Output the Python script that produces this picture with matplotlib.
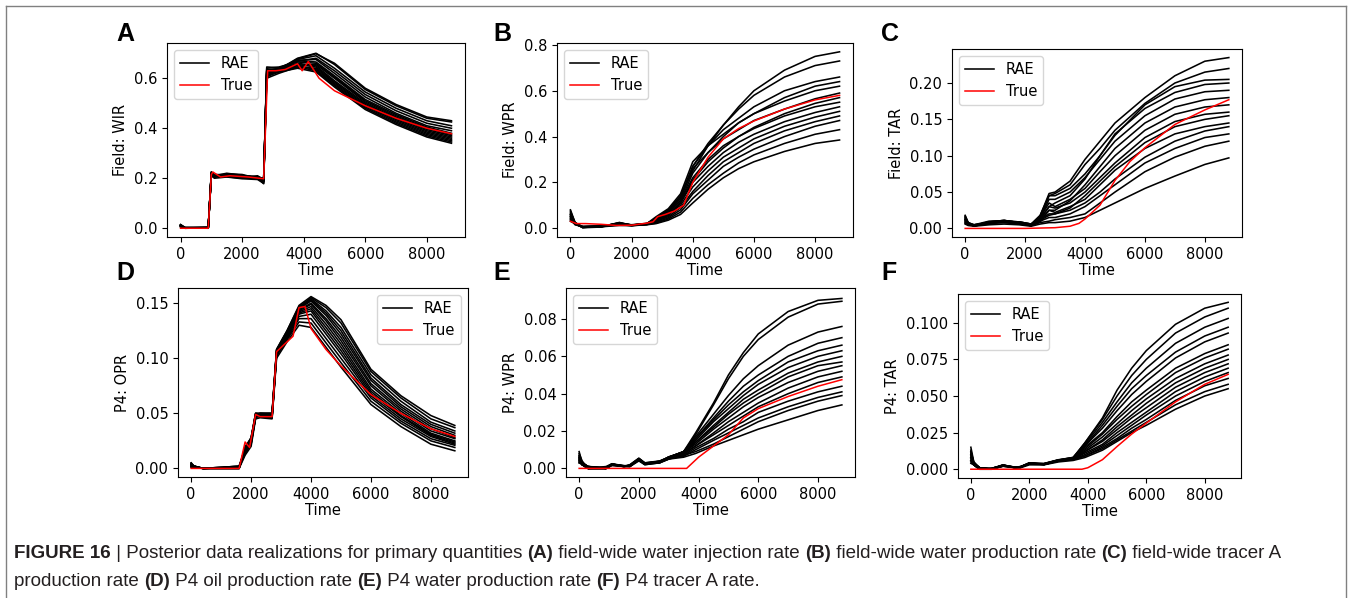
import matplotlib
matplotlib.use("Agg")
import matplotlib.pyplot as plt
from matplotlib.lines import Line2D

plt.rcParams['font.family'] = ['DejaVu Sans']
plt.rcParams['font.size'] = 10.5

# ---------------- panel A: Field WIR ----------------
a_time = [0, 150, 900, 1000, 1100, 1500, 2000, 2500, 2700, 2800, 3200, 3800, 4400, 5000, 6000, 7000, 8000, 8800]
a_runs = [
    [0.012, 0.002, 0.003, 0.215, 0.205, 0.208, 0.202, 0.198, 0.190, 0.610, 0.625, 0.640, 0.625, 0.565, 0.475, 0.415, 0.365, 0.340],
    [0.008, 0.001, 0.002, 0.220, 0.210, 0.212, 0.205, 0.200, 0.185, 0.615, 0.630, 0.645, 0.630, 0.570, 0.480, 0.420, 0.370, 0.345],
    [0.015, 0.003, 0.004, 0.225, 0.215, 0.214, 0.210, 0.205, 0.195, 0.620, 0.635, 0.650, 0.635, 0.575, 0.485, 0.425, 0.375, 0.350],
    [0.010, 0.000, 0.001, 0.210, 0.200, 0.205, 0.198, 0.195, 0.180, 0.600, 0.620, 0.645, 0.640, 0.580, 0.490, 0.430, 0.380, 0.355],
    [0.005, 0.002, 0.003, 0.218, 0.212, 0.216, 0.212, 0.202, 0.200, 0.630, 0.640, 0.655, 0.645, 0.585, 0.495, 0.435, 0.385, 0.360],
    [0.012, 0.001, 0.002, 0.222, 0.208, 0.210, 0.207, 0.207, 0.190, 0.625, 0.632, 0.660, 0.650, 0.590, 0.500, 0.440, 0.390, 0.365],
    [0.009, 0.002, 0.000, 0.212, 0.204, 0.218, 0.215, 0.200, 0.178, 0.605, 0.628, 0.652, 0.655, 0.600, 0.505, 0.445, 0.395, 0.370],
    [0.014, 0.000, 0.002, 0.225, 0.214, 0.206, 0.200, 0.210, 0.195, 0.640, 0.645, 0.665, 0.660, 0.605, 0.510, 0.450, 0.400, 0.375],
    [0.007, 0.003, 0.001, 0.216, 0.206, 0.212, 0.208, 0.203, 0.188, 0.635, 0.638, 0.670, 0.665, 0.610, 0.515, 0.455, 0.405, 0.380],
    [0.011, 0.001, 0.003, 0.220, 0.210, 0.220, 0.212, 0.198, 0.192, 0.645, 0.642, 0.672, 0.675, 0.620, 0.525, 0.460, 0.410, 0.390],
    [0.013, 0.002, 0.002, 0.214, 0.208, 0.215, 0.210, 0.205, 0.198, 0.620, 0.630, 0.668, 0.680, 0.630, 0.535, 0.470, 0.420, 0.400],
    [0.010, 0.000, 0.001, 0.219, 0.211, 0.209, 0.204, 0.201, 0.186, 0.612, 0.626, 0.675, 0.690, 0.640, 0.545, 0.480, 0.430, 0.410],
    [0.012, 0.002, 0.002, 0.223, 0.213, 0.213, 0.206, 0.203, 0.193, 0.630, 0.636, 0.680, 0.700, 0.655, 0.555, 0.490, 0.440, 0.425],
    [0.009, 0.001, 0.003, 0.217, 0.207, 0.211, 0.209, 0.206, 0.197, 0.628, 0.634, 0.678, 0.698, 0.660, 0.560, 0.495, 0.445, 0.430],
]
a_true_t = [0, 900, 1000, 1050, 1300, 1600, 2200, 2700, 2830, 3100, 3400, 3800, 3950, 4150, 4500, 5000, 6000, 7000, 8000, 8800]
a_true = [0.0, 0.0, 0.215, 0.225, 0.205, 0.21, 0.205, 0.198, 0.63, 0.63, 0.635, 0.658, 0.63, 0.667, 0.6, 0.55, 0.49, 0.44, 0.40, 0.378]

# ---------------- panel B: Field WPR ----------------
b_time = [0, 150, 400, 1000, 1600, 2000, 2500, 2800, 3200, 3600, 4000, 4500, 5000, 5500, 6000, 7000, 8000, 8800]
b_runs = [
    [0.030, 0.020, 0.005, 0.006, 0.012, 0.011, 0.015, 0.020, 0.035, 0.060, 0.110, 0.170, 0.220, 0.260, 0.290, 0.335, 0.370, 0.385],
    [0.050, 0.020, 0.003, 0.008, 0.015, 0.012, 0.016, 0.022, 0.040, 0.070, 0.130, 0.190, 0.240, 0.285, 0.320, 0.370, 0.410, 0.430],
    [0.080, 0.025, 0.002, 0.005, 0.020, 0.013, 0.017, 0.025, 0.045, 0.080, 0.150, 0.210, 0.270, 0.310, 0.345, 0.400, 0.445, 0.470],
    [0.040, 0.015, 0.006, 0.009, 0.018, 0.012, 0.018, 0.030, 0.050, 0.090, 0.160, 0.230, 0.290, 0.330, 0.370, 0.425, 0.465, 0.490],
    [0.060, 0.022, 0.004, 0.007, 0.022, 0.014, 0.019, 0.035, 0.060, 0.100, 0.180, 0.250, 0.310, 0.350, 0.390, 0.445, 0.485, 0.510],
    [0.035, 0.018, 0.008, 0.010, 0.016, 0.011, 0.016, 0.028, 0.055, 0.110, 0.200, 0.270, 0.330, 0.375, 0.410, 0.465, 0.505, 0.530],
    [0.070, 0.025, 0.005, 0.006, 0.025, 0.013, 0.020, 0.040, 0.070, 0.120, 0.220, 0.300, 0.360, 0.400, 0.435, 0.490, 0.530, 0.550],
    [0.045, 0.020, 0.003, 0.008, 0.014, 0.012, 0.017, 0.030, 0.060, 0.110, 0.210, 0.290, 0.350, 0.400, 0.440, 0.500, 0.545, 0.570],
    [0.055, 0.017, 0.006, 0.009, 0.019, 0.014, 0.018, 0.045, 0.080, 0.130, 0.260, 0.330, 0.390, 0.430, 0.470, 0.520, 0.565, 0.590],
    [0.065, 0.024, 0.004, 0.007, 0.023, 0.012, 0.020, 0.050, 0.085, 0.150, 0.290, 0.360, 0.410, 0.460, 0.500, 0.555, 0.600, 0.620],
    [0.040, 0.019, 0.007, 0.010, 0.017, 0.013, 0.019, 0.035, 0.065, 0.120, 0.240, 0.330, 0.400, 0.460, 0.500, 0.570, 0.620, 0.640],
    [0.075, 0.021, 0.005, 0.008, 0.020, 0.015, 0.021, 0.040, 0.075, 0.140, 0.270, 0.360, 0.430, 0.480, 0.530, 0.600, 0.640, 0.660],
    [0.050, 0.023, 0.006, 0.006, 0.024, 0.013, 0.018, 0.038, 0.070, 0.130, 0.270, 0.370, 0.450, 0.520, 0.580, 0.660, 0.710, 0.730],
    [0.060, 0.018, 0.004, 0.009, 0.021, 0.014, 0.020, 0.042, 0.080, 0.140, 0.250, 0.360, 0.450, 0.530, 0.600, 0.690, 0.750, 0.770],
]
b_true_t = [0, 200, 500, 1000, 1500, 2000, 2500, 2700, 2850, 3100, 3400, 3700, 4000, 4500, 5000, 5500, 6000, 7000, 8000, 8800]
b_true = [0.03, 0.02, 0.02, 0.017, 0.012, 0.013, 0.022, 0.028, 0.05, 0.06, 0.075, 0.1, 0.2, 0.31, 0.39, 0.435, 0.468, 0.52, 0.56, 0.58]

# ---------------- panel C: Field TAR ----------------
c_time = [0, 100, 300, 800, 1300, 1800, 2200, 2500, 2800, 3000, 3500, 4000, 4500, 5000, 6000, 7000, 8000, 8800]
c_runs = [
    [0.006, 0.004, 0.003, 0.005, 0.006, 0.005, 0.003, 0.006, 0.008, 0.008, 0.010, 0.015, 0.025, 0.035, 0.055, 0.072, 0.088, 0.097],
    [0.012, 0.006, 0.004, 0.007, 0.008, 0.006, 0.004, 0.008, 0.010, 0.012, 0.015, 0.020, 0.035, 0.050, 0.078, 0.098, 0.113, 0.120],
    [0.018, 0.008, 0.004, 0.008, 0.009, 0.007, 0.004, 0.010, 0.015, 0.015, 0.020, 0.030, 0.045, 0.060, 0.090, 0.110, 0.125, 0.130],
    [0.008, 0.005, 0.005, 0.006, 0.010, 0.008, 0.005, 0.012, 0.020, 0.020, 0.025, 0.035, 0.050, 0.068, 0.098, 0.120, 0.134, 0.140],
    [0.015, 0.007, 0.003, 0.009, 0.011, 0.008, 0.005, 0.009, 0.025, 0.022, 0.030, 0.040, 0.060, 0.080, 0.110, 0.130, 0.140, 0.145],
    [0.010, 0.006, 0.004, 0.008, 0.009, 0.007, 0.004, 0.011, 0.018, 0.020, 0.028, 0.045, 0.065, 0.085, 0.118, 0.140, 0.150, 0.155],
    [0.013, 0.008, 0.005, 0.007, 0.010, 0.009, 0.006, 0.013, 0.030, 0.028, 0.035, 0.050, 0.070, 0.090, 0.125, 0.147, 0.157, 0.160],
    [0.007, 0.005, 0.004, 0.009, 0.011, 0.008, 0.005, 0.015, 0.035, 0.030, 0.040, 0.055, 0.078, 0.100, 0.135, 0.157, 0.167, 0.170],
    [0.016, 0.007, 0.003, 0.008, 0.008, 0.007, 0.004, 0.012, 0.025, 0.025, 0.038, 0.060, 0.085, 0.110, 0.145, 0.167, 0.177, 0.180],
    [0.011, 0.006, 0.005, 0.010, 0.010, 0.009, 0.006, 0.014, 0.040, 0.040, 0.050, 0.070, 0.095, 0.120, 0.155, 0.178, 0.188, 0.190],
    [0.009, 0.005, 0.004, 0.007, 0.009, 0.008, 0.005, 0.016, 0.045, 0.045, 0.055, 0.075, 0.100, 0.130, 0.165, 0.187, 0.198, 0.200],
    [0.014, 0.007, 0.004, 0.009, 0.011, 0.008, 0.004, 0.013, 0.030, 0.035, 0.045, 0.068, 0.100, 0.128, 0.170, 0.195, 0.204, 0.205],
    [0.012, 0.006, 0.005, 0.008, 0.010, 0.009, 0.006, 0.018, 0.045, 0.048, 0.060, 0.088, 0.110, 0.135, 0.172, 0.200, 0.215, 0.220],
    [0.017, 0.008, 0.004, 0.009, 0.010, 0.007, 0.005, 0.017, 0.048, 0.050, 0.065, 0.095, 0.120, 0.145, 0.180, 0.210, 0.230, 0.235],
]
c_true_t = [0, 2000, 3000, 3500, 3800, 4000, 4500, 5000, 5500, 6000, 7000, 8000, 8800]
c_true = [0.0, 0.0, 0.001, 0.003, 0.007, 0.013, 0.032, 0.066, 0.092, 0.111, 0.143, 0.163, 0.177]

# ---------------- panel D: P4 OPR ----------------
d_time = [0, 100, 400, 1600, 1800, 2000, 2150, 2300, 2700, 2850, 3200, 3600, 4000, 4500, 5000, 6000, 7000, 8000, 8800]
d_runs = [
    [0.002, 0.001, 0.0, 0.000, 0.012, 0.020, 0.045, 0.046, 0.045, 0.100, 0.115, 0.130, 0.128, 0.110, 0.092, 0.058, 0.038, 0.022, 0.016],
    [0.004, 0.002, 0.0, 0.001, 0.015, 0.022, 0.047, 0.047, 0.046, 0.102, 0.117, 0.133, 0.132, 0.114, 0.096, 0.061, 0.041, 0.025, 0.019],
    [0.003, 0.001, 0.0, 0.000, 0.018, 0.025, 0.048, 0.048, 0.047, 0.104, 0.118, 0.136, 0.136, 0.118, 0.100, 0.064, 0.043, 0.027, 0.021],
    [0.005, 0.002, 0.0, 0.002, 0.014, 0.024, 0.046, 0.049, 0.047, 0.103, 0.120, 0.138, 0.140, 0.122, 0.104, 0.066, 0.045, 0.029, 0.022],
    [0.001, 0.001, 0.0, 0.001, 0.016, 0.026, 0.049, 0.048, 0.048, 0.105, 0.119, 0.140, 0.143, 0.125, 0.107, 0.068, 0.047, 0.030, 0.023],
    [0.004, 0.002, 0.0, 0.000, 0.020, 0.027, 0.050, 0.050, 0.049, 0.106, 0.121, 0.141, 0.145, 0.128, 0.110, 0.070, 0.048, 0.031, 0.024],
    [0.002, 0.001, 0.0, 0.001, 0.013, 0.023, 0.047, 0.049, 0.048, 0.104, 0.122, 0.142, 0.147, 0.131, 0.113, 0.072, 0.050, 0.032, 0.025],
    [0.003, 0.002, 0.0, 0.002, 0.017, 0.028, 0.048, 0.050, 0.050, 0.107, 0.123, 0.143, 0.149, 0.134, 0.116, 0.075, 0.052, 0.034, 0.027],
    [0.005, 0.001, 0.0, 0.000, 0.019, 0.025, 0.049, 0.047, 0.046, 0.103, 0.121, 0.144, 0.150, 0.136, 0.119, 0.077, 0.054, 0.036, 0.028],
    [0.002, 0.002, 0.0, 0.001, 0.014, 0.026, 0.050, 0.049, 0.049, 0.106, 0.124, 0.145, 0.152, 0.139, 0.122, 0.080, 0.056, 0.038, 0.030],
    [0.004, 0.001, 0.0, 0.002, 0.018, 0.024, 0.046, 0.048, 0.047, 0.105, 0.122, 0.146, 0.153, 0.141, 0.125, 0.082, 0.058, 0.040, 0.032],
    [0.003, 0.002, 0.0, 0.000, 0.016, 0.027, 0.048, 0.050, 0.050, 0.108, 0.125, 0.147, 0.154, 0.143, 0.128, 0.085, 0.061, 0.042, 0.034],
    [0.001, 0.001, 0.0, 0.001, 0.015, 0.022, 0.047, 0.049, 0.048, 0.107, 0.124, 0.146, 0.155, 0.146, 0.132, 0.088, 0.064, 0.045, 0.037],
    [0.004, 0.002, 0.0, 0.001, 0.019, 0.028, 0.050, 0.050, 0.050, 0.108, 0.125, 0.148, 0.156, 0.148, 0.135, 0.090, 0.066, 0.048, 0.039],
]
d_true_t = [0, 1600, 1800, 1950, 2150, 2300, 2700, 2850, 3400, 3600, 3800, 4000, 4500, 5000, 6000, 7000, 8000, 8800]
d_true = [0.0, 0.0, 0.024, 0.019, 0.049, 0.047, 0.047, 0.106, 0.12, 0.146, 0.147, 0.127, 0.108, 0.093, 0.067, 0.05, 0.036, 0.029]

# ---------------- panel E: P4 WPR ----------------
e_time = [0, 100, 300, 900, 1100, 1500, 1700, 2000, 2200, 2700, 3000, 3500, 3900, 4500, 5000, 5500, 6000, 7000, 8000, 8800]
e_runs = [
    [0.003, 0.003, 0.000, 0.0000, 0.0015, 0.0010, 0.0010, 0.0040, 0.0020, 0.0030, 0.0050, 0.0060, 0.008, 0.012, 0.015, 0.018, 0.021, 0.026, 0.031, 0.034],
    [0.006, 0.002, 0.000, 0.0000, 0.0020, 0.0010, 0.0010, 0.0045, 0.0020, 0.0030, 0.0050, 0.0070, 0.009, 0.013, 0.017, 0.021, 0.025, 0.031, 0.036, 0.039],
    [0.004, 0.003, 0.001, 0.0000, 0.0020, 0.0012, 0.0015, 0.0050, 0.0025, 0.0035, 0.0055, 0.0065, 0.010, 0.015, 0.019, 0.023, 0.027, 0.033, 0.038, 0.041],
    [0.008, 0.004, 0.000, 0.0010, 0.0025, 0.0010, 0.0015, 0.0045, 0.0025, 0.0030, 0.0060, 0.0070, 0.011, 0.016, 0.021, 0.025, 0.030, 0.036, 0.041, 0.044],
    [0.005, 0.002, 0.000, 0.0000, 0.0020, 0.0015, 0.0010, 0.0050, 0.0022, 0.0035, 0.0050, 0.0080, 0.012, 0.018, 0.023, 0.028, 0.033, 0.040, 0.046, 0.049],
    [0.007, 0.003, 0.001, 0.0005, 0.0018, 0.0010, 0.0020, 0.0055, 0.0030, 0.0040, 0.0060, 0.0075, 0.012, 0.019, 0.025, 0.030, 0.035, 0.043, 0.049, 0.052],
    [0.004, 0.002, 0.000, 0.0000, 0.0022, 0.0012, 0.0015, 0.0048, 0.0024, 0.0032, 0.0052, 0.0085, 0.013, 0.021, 0.027, 0.033, 0.038, 0.046, 0.052, 0.055],
    [0.009, 0.003, 0.000, 0.0000, 0.0025, 0.0014, 0.0012, 0.0050, 0.0028, 0.0038, 0.0058, 0.0080, 0.014, 0.022, 0.029, 0.035, 0.040, 0.049, 0.055, 0.057],
    [0.005, 0.003, 0.001, 0.0000, 0.0020, 0.0010, 0.0018, 0.0052, 0.0026, 0.0035, 0.0060, 0.0090, 0.014, 0.023, 0.030, 0.037, 0.042, 0.051, 0.057, 0.060],
    [0.006, 0.002, 0.000, 0.0005, 0.0021, 0.0013, 0.0014, 0.0046, 0.0023, 0.0034, 0.0055, 0.0085, 0.015, 0.025, 0.032, 0.039, 0.045, 0.054, 0.060, 0.063],
    [0.003, 0.002, 0.000, 0.0000, 0.0019, 0.0011, 0.0016, 0.0051, 0.0027, 0.0036, 0.0057, 0.0090, 0.016, 0.026, 0.034, 0.041, 0.047, 0.057, 0.063, 0.066],
    [0.007, 0.003, 0.001, 0.0000, 0.0023, 0.0012, 0.0013, 0.0049, 0.0025, 0.0033, 0.0062, 0.0088, 0.016, 0.027, 0.036, 0.044, 0.050, 0.060, 0.067, 0.070],
    [0.005, 0.002, 0.000, 0.0000, 0.0020, 0.0014, 0.0017, 0.0053, 0.0029, 0.0037, 0.0060, 0.0090, 0.017, 0.029, 0.039, 0.048, 0.055, 0.066, 0.073, 0.076],
    [0.006, 0.003, 0.000, 0.0005, 0.0024, 0.0010, 0.0015, 0.0047, 0.0024, 0.0035, 0.0061, 0.0087, 0.018, 0.034, 0.048, 0.060, 0.069, 0.081, 0.088, 0.0895],
    [0.004, 0.002, 0.001, 0.0000, 0.0022, 0.0013, 0.0012, 0.0050, 0.0026, 0.0039, 0.0059, 0.0090, 0.019, 0.035, 0.050, 0.062, 0.072, 0.084, 0.090, 0.091],
]
e_true_t = [0, 3600, 3800, 4000, 4500, 5000, 5500, 6000, 7000, 8000, 8800]
e_true = [0.0, 0.0, 0.003, 0.006, 0.012, 0.018, 0.027, 0.032, 0.0385, 0.044, 0.0475]

# ---------------- panel F: P4 TAR ----------------
f_time = [0, 100, 300, 700, 1100, 1500, 1700, 2000, 2500, 3000, 3500, 3900, 4500, 5000, 5500, 6000, 7000, 8000, 8800]
f_runs = [
    [0.004, 0.003, 0.001, 0.0000, 0.0020, 0.0010, 0.0010, 0.0030, 0.0030, 0.0050, 0.0060, 0.008, 0.013, 0.019, 0.025, 0.030, 0.041, 0.050, 0.055],
    [0.008, 0.004, 0.000, 0.0005, 0.0025, 0.0012, 0.0015, 0.0035, 0.0032, 0.0055, 0.0065, 0.009, 0.014, 0.020, 0.026, 0.032, 0.044, 0.053, 0.058],
    [0.012, 0.004, 0.001, 0.0000, 0.0030, 0.0010, 0.0012, 0.0040, 0.0035, 0.0060, 0.0070, 0.009, 0.015, 0.021, 0.028, 0.034, 0.047, 0.057, 0.062],
    [0.005, 0.003, 0.000, 0.0000, 0.0022, 0.0011, 0.0018, 0.0038, 0.0033, 0.0058, 0.0068, 0.010, 0.016, 0.023, 0.030, 0.037, 0.050, 0.060, 0.066],
    [0.015, 0.005, 0.001, 0.0005, 0.0028, 0.0014, 0.0014, 0.0036, 0.0036, 0.0062, 0.0072, 0.011, 0.017, 0.025, 0.032, 0.039, 0.053, 0.063, 0.069],
    [0.006, 0.003, 0.000, 0.0000, 0.0026, 0.0012, 0.0016, 0.0042, 0.0034, 0.0056, 0.0075, 0.012, 0.019, 0.027, 0.035, 0.042, 0.056, 0.066, 0.072],
    [0.010, 0.004, 0.001, 0.0000, 0.0024, 0.0013, 0.0013, 0.0039, 0.0038, 0.0064, 0.0070, 0.012, 0.020, 0.029, 0.037, 0.045, 0.059, 0.069, 0.075],
    [0.007, 0.003, 0.000, 0.0005, 0.0029, 0.0010, 0.0017, 0.0041, 0.0031, 0.0059, 0.0078, 0.013, 0.022, 0.031, 0.040, 0.048, 0.062, 0.072, 0.078],
    [0.013, 0.004, 0.001, 0.0000, 0.0023, 0.0015, 0.0015, 0.0037, 0.0037, 0.0061, 0.0074, 0.014, 0.024, 0.034, 0.043, 0.051, 0.066, 0.076, 0.082],
    [0.009, 0.003, 0.000, 0.0000, 0.0027, 0.0011, 0.0012, 0.0043, 0.0033, 0.0057, 0.0076, 0.015, 0.025, 0.036, 0.046, 0.054, 0.069, 0.079, 0.085],
    [0.006, 0.004, 0.001, 0.0005, 0.0025, 0.0013, 0.0016, 0.0040, 0.0036, 0.0063, 0.0079, 0.016, 0.028, 0.040, 0.051, 0.060, 0.076, 0.087, 0.093],
    [0.011, 0.003, 0.000, 0.0000, 0.0021, 0.0012, 0.0014, 0.0038, 0.0034, 0.0060, 0.0073, 0.016, 0.030, 0.043, 0.055, 0.064, 0.080, 0.091, 0.097],
    [0.008, 0.004, 0.001, 0.0000, 0.0028, 0.0014, 0.0018, 0.0044, 0.0039, 0.0065, 0.0080, 0.017, 0.032, 0.046, 0.059, 0.069, 0.086, 0.097, 0.103],
    [0.012, 0.005, 0.000, 0.0005, 0.0026, 0.0011, 0.0013, 0.0042, 0.0032, 0.0058, 0.0077, 0.018, 0.034, 0.050, 0.064, 0.075, 0.093, 0.104, 0.110],
    [0.010, 0.004, 0.001, 0.0000, 0.0024, 0.0015, 0.0017, 0.0040, 0.0037, 0.0062, 0.0081, 0.018, 0.035, 0.054, 0.069, 0.081, 0.099, 0.110, 0.114],
]
f_true_t = [0, 3800, 4000, 4500, 5000, 5500, 6000, 7000, 8000, 8800]
f_true = [0.0, 0.0, 0.001, 0.0065, 0.0155, 0.024, 0.0315, 0.046, 0.058, 0.0648]

W, H = 1352, 598
fig = plt.figure(figsize=(W / 100, H / 100), dpi=100)


def px_axes(left, top, right, bottom):
    return fig.add_axes([left / W, 1 - bottom / H, (right - left) / W, (bottom - top) / H])


panels = [
    # letter, box (l, t, r, b), time, runs, true t, true, ylabel, ylim, legend loc, letter x, letter baseline
    ("A", (167, 43, 465, 237), a_time, a_runs, a_true_t, a_true, "Field: WIR", (-0.035, 0.741), "upper left", 116, 41),
    ("B", (557, 43, 853, 237), b_time, b_runs, b_true_t, b_true, "Field: WPR", (-0.0385, 0.8085), "upper left", 493, 41),
    ("C", (952, 49, 1242, 237), c_time, c_runs, c_true_t, c_true, "Field: TAR", (-0.0118, 0.2468), "upper left", 881, 41),
    ("D", (178, 288, 468, 477), d_time, d_runs, d_true_t, d_true, "P4: OPR", (-0.0078, 0.1638), "upper right", 116, 280),
    ("E", (566, 288, 855, 477), e_time, e_runs, e_true_t, e_true, "P4: WPR", (-0.0046, 0.0966), "upper left", 493, 280),
    ("F", (958, 294, 1241, 478), f_time, f_runs, f_true_t, f_true, "P4: TAR", (-0.006, 0.1197), "upper left", 881, 280),
]

for letter, box, t, runs, tt, tv, ylab, ylim, loc, lx, ly in panels:
    ax = px_axes(*box)
    for i, run in enumerate(runs):
        ax.plot(t, run, color="black", lw=1.15, label="RAE" if i == 0 else None)
    ax.plot(tt, tv, color="red", lw=1.1, label="True", zorder=5)
    ax.set_xlim(-440, 9240)
    ax.set_ylim(*ylim)
    ax.set_xticks([0, 2000, 4000, 6000, 8000])
    ax.set_xlabel("Time", labelpad=1)
    ax.set_ylabel(ylab)
    ax.legend(loc=loc, fontsize=10.5)
    fig.text(lx / W, 1 - ly / H, letter, fontsize=18, fontweight="bold",
             family=["Liberation Sans", "DejaVu Sans"], va="baseline", ha="left")

# outer frame of the figure page
frame_kw = dict(color="#808080", lw=1.0, transform=fig.transFigure)
fig.add_artist(Line2D([6 / W, 6 / W], [0, 1 - 6 / H], **frame_kw))
fig.add_artist(Line2D([6 / W, 1346 / W], [1 - 6 / H, 1 - 6 / H], **frame_kw))
fig.add_artist(Line2D([1346 / W, 1346 / W], [0, 1 - 6 / H], **frame_kw))

# caption with mixed bold/regular runs
caption_lines = [
    [("FIGURE 16", True), (" | Posterior data realizations for primary quantities ", False), ("(A)", True),
     (" field-wide water injection rate ", False), ("(B)", True), (" field-wide water production rate ", False),
     ("(C)", True), (" field-wide tracer A", False)],
    [("production rate ", False), ("(D)", True), (" P4 oil production rate ", False), ("(E)", True),
     (" P4 water production rate ", False), ("(F)", True), (" P4 tracer A rate.", False)],
]
caption_baselines = [558, 586]

renderer = fig.canvas.get_renderer()
for parts, base in zip(caption_lines, caption_baselines):
    x = 14
    for s, bold in parts:
        txt = fig.text(x / W, 1 - base / H, s, fontsize=13.5, family=["Liberation Sans", "DejaVu Sans"],
                       fontweight="bold" if bold else "normal", color="#231f20", va="baseline", ha="left")
        x += txt.get_window_extent(renderer).width

fig.savefig("out.png", dpi=100)
